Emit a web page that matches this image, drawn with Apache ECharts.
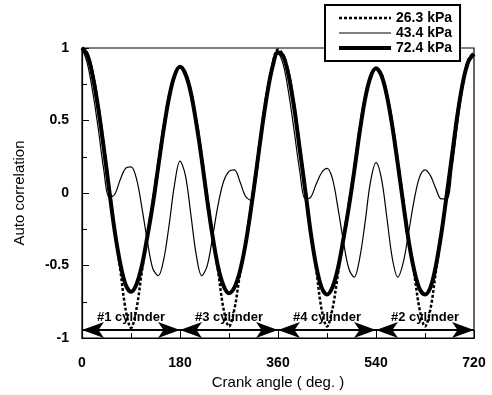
<!DOCTYPE html>
<html>
<head>
<meta charset="utf-8">
<script src="https://cdn.jsdelivr.net/npm/echarts@6/dist/echarts.min.js"></script>
<style>
  html, body { margin: 0; padding: 0; background: #fff; }
  #chart { width: 492px; height: 395px; }
</style>
</head>
<body>
<div id="chart"></div>
<script>
// crank angle samples (deg), every 10 degrees
const angles = [
  0, 10, 20, 30, 40, 50, 60, 70, 80, 90, 100, 110, 120, 130, 140, 150, 160, 170, 180,
  190, 200, 210, 220, 230, 240, 250, 260, 270, 280, 290, 300, 310, 320, 330, 340, 350, 360,
  370, 380, 390, 400, 410, 420, 430, 440, 450, 460, 470, 480, 490, 500, 510, 520, 530, 540,
  550, 560, 570, 580, 590, 600, 610, 620, 630, 640, 650, 660, 670, 680, 690, 700, 710, 720
];

// 26.3 kPa (dotted)
const low = [
  1.00, 0.96, 0.82, 0.60, 0.33, 0.04, -0.26, -0.52, -0.80, -0.93, -0.80, -0.54, -0.30, -0.06, 0.20, 0.46, 0.67, 0.81, 0.87,
  0.83, 0.70, 0.50, 0.25, -0.03, -0.30, -0.54, -0.80, -0.92, -0.80, -0.56, -0.36, -0.10, 0.17, 0.45, 0.70, 0.89, 0.99,
  0.95, 0.82, 0.60, 0.32, 0.04, -0.26, -0.52, -0.80, -0.92, -0.80, -0.56, -0.32, -0.08, 0.17, 0.44, 0.66, 0.80, 0.86,
  0.82, 0.68, 0.48, 0.22, -0.05, -0.32, -0.55, -0.80, -0.92, -0.80, -0.54, -0.28, 0.00, 0.28, 0.56, 0.78, 0.92, 0.97
];

// 43.4 kPa (thin)
const mid = [
  1.00, 0.89, 0.69, 0.44, 0.16, -0.03, -0.01, 0.09, 0.17, 0.18, 0.10, -0.10, -0.33, -0.52, -0.57, -0.46, -0.22, 0.06, 0.22,
  0.12, -0.15, -0.43, -0.57, -0.50, -0.30, -0.08, 0.08, 0.15, 0.16, 0.08, -0.02, -0.05, 0.10, 0.42, 0.69, 0.88, 0.96,
  0.88, 0.68, 0.42, 0.15, -0.04, -0.03, 0.06, 0.14, 0.17, 0.10, -0.10, -0.33, -0.52, -0.58, -0.45, -0.20, 0.08, 0.21,
  0.10, -0.17, -0.45, -0.58, -0.48, -0.27, -0.05, 0.11, 0.16, 0.12, 0.03, -0.04, -0.04, 0.18, 0.48, 0.74, 0.90, 0.95
];

// 72.4 kPa (thick)
const high = [
  1.00, 0.95, 0.80, 0.58, 0.31, 0.02, -0.26, -0.48, -0.63, -0.68, -0.63, -0.50, -0.30, -0.08, 0.18, 0.44, 0.66, 0.81, 0.87,
  0.82, 0.69, 0.48, 0.23, -0.05, -0.30, -0.51, -0.64, -0.69, -0.65, -0.54, -0.36, -0.12, 0.15, 0.43, 0.68, 0.87, 0.97,
  0.94, 0.80, 0.58, 0.30, 0.02, -0.27, -0.50, -0.65, -0.70, -0.65, -0.52, -0.32, -0.10, 0.15, 0.42, 0.65, 0.80, 0.86,
  0.81, 0.67, 0.46, 0.20, -0.07, -0.33, -0.53, -0.66, -0.70, -0.65, -0.50, -0.28, -0.01, 0.27, 0.55, 0.77, 0.91, 0.96
];

const seriesNames = ['26.3 kPa', '43.4 kPa', '72.4 kPa'];
const cylinderLabels = ['#1 cylinder', '#3 cylinder', '#4 cylinder', '#2 cylinder'];
const cylinderBounds = [0, 180, 360, 540, 720];
const arrowLevel = -0.945;

const pairs = vals => angles.map((a, i) => [a, vals[i]]);

const arrowData = cylinderLabels.map((name, i) => [
  { coord: [cylinderBounds[i], arrowLevel], name: name },
  { coord: [cylinderBounds[i + 1], arrowLevel] }
]);

const font = 'Liberation Sans, Arial, Helvetica, sans-serif';
const chart = echarts.init(document.getElementById('chart'));

chart.setOption({
  animation: false,
  backgroundColor: '#fff',
  grid: { left: 82, right: 18, top: 48, bottom: 55, show: true, borderColor: '#000', borderWidth: 1.2 },
  legend: {
    data: seriesNames,
    orient: 'vertical',
    left: 325,
    top: 5,
    itemWidth: 52,
    itemHeight: 14,
    itemGap: 1,
    padding: [6, 8, 6, 12],
    borderColor: '#000',
    borderWidth: 2,
    borderRadius: 0,
    backgroundColor: '#fff',
    itemStyle: { opacity: 0 },
    lineStyle: { width: 'inherit' },
    textStyle: { fontFamily: font, fontSize: 14, fontWeight: 'bold', color: '#000' }
  },
  xAxis: {
    type: 'value',
    min: 0,
    max: 720,
    interval: 180,
    name: 'Crank angle ( deg. )',
    nameLocation: 'middle',
    nameGap: 36,
    nameTextStyle: { fontFamily: font, fontSize: 15, color: '#000' },
    axisLine: { onZero: false, lineStyle: { color: '#000', width: 1.2 } },
    axisTick: { inside: true, length: 8, lineStyle: { color: '#000' } },
    minorTick: { show: true, splitNumber: 2, length: 5, lineStyle: { color: '#000' } },
    axisLabel: { fontFamily: font, fontSize: 14, fontWeight: 'bold', color: '#000', margin: 18 },
    splitLine: { show: false }
  },
  yAxis: {
    type: 'value',
    min: -1,
    max: 1,
    interval: 0.5,
    name: 'Auto correlation',
    nameLocation: 'middle',
    nameGap: 55,
    nameTextStyle: { fontFamily: font, fontSize: 15, color: '#000' },
    axisLine: { onZero: false, lineStyle: { color: '#000', width: 1.2 } },
    axisTick: { inside: true, length: 7, lineStyle: { color: '#000' } },
    minorTick: { show: true, splitNumber: 2, length: 5, lineStyle: { color: '#000' } },
    axisLabel: { fontFamily: font, fontSize: 14, fontWeight: 'bold', color: '#000', margin: 13 },
    splitLine: { show: false }
  },
  series: [
    {
      name: seriesNames[0],
      type: 'line',
      data: pairs(low),
      smooth: 0.35,
      symbol: 'none',
      lineStyle: { color: '#000', width: 2.5, type: [3, 2] },
      itemStyle: { color: '#000' },
      z: 3
    },
    {
      name: seriesNames[1],
      type: 'line',
      data: pairs(mid),
      smooth: 0.35,
      symbol: 'none',
      lineStyle: { color: '#000', width: 1.2 },
      itemStyle: { color: '#000' },
      z: 2
    },
    {
      name: seriesNames[2],
      type: 'line',
      data: pairs(high),
      smooth: 0.35,
      symbol: 'none',
      lineStyle: { color: '#000', width: 4 },
      itemStyle: { color: '#000' },
      z: 4,
      markLine: {
        silent: true,
        symbol: ['arrow', 'arrow'],
        symbolSize: [12, 22],
        lineStyle: { color: '#000', width: 2.2, type: 'solid' },
        label: {
          show: true,
          position: 'insideMiddleTop',
          distance: 6,
          formatter: '{b}',
          fontFamily: font,
          fontSize: 13,
          fontWeight: 'bold',
          color: '#000'
        },
        data: arrowData
      }
    }
  ]
});
</script>
</body>
</html>
